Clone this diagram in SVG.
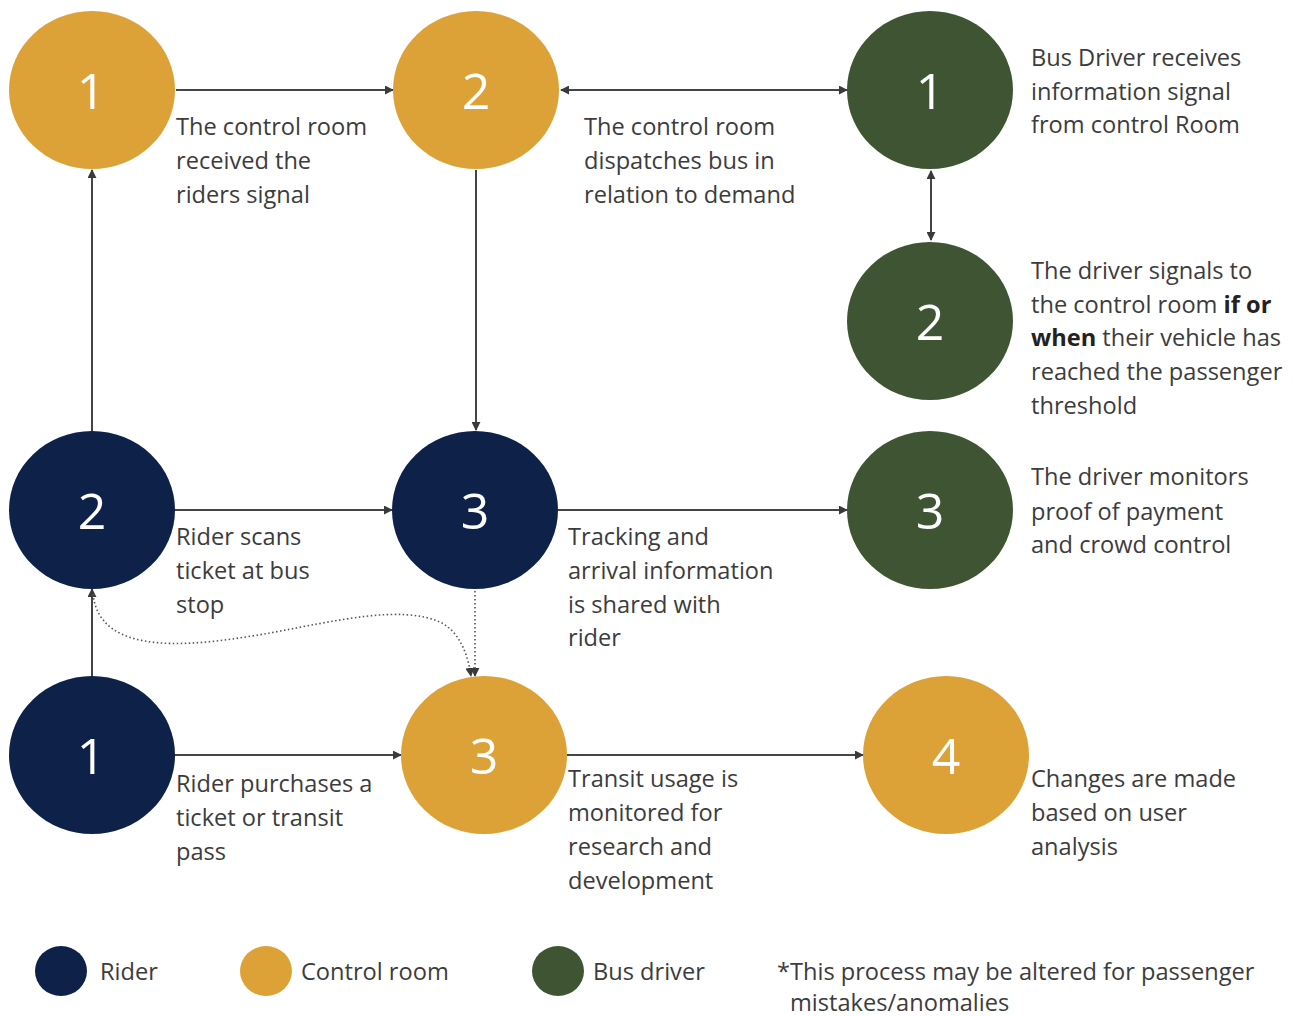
<svg xmlns="http://www.w3.org/2000/svg" width="1298" height="1016" viewBox="0 0 1298 1016">
  <style>
    .rider { fill: #0e2148; }
    .control { fill: #dca238; }
    .driver { fill: #3e5433; }
    .num { font-family: "Open Sans", "DejaVu Sans", sans-serif; font-size: 50px; fill: #ffffff; text-anchor: middle; }
    .lbl { font-family: "Open Sans", "DejaVu Sans", sans-serif; font-size: 23.6px; fill: #3c3c3c; }
    .b { font-weight: bold; fill: #222222; }
    .link { stroke: #454545; stroke-width: 2; fill: none; }
    .dot { stroke: #555555; stroke-width: 1.6; stroke-dasharray: 1.5 2.5; fill: none; }
  </style>
  <defs>
    <marker id="arrow" viewBox="0 0 10 10" refX="9" refY="5" markerWidth="9" markerHeight="9" markerUnits="userSpaceOnUse" orient="auto-start-reverse">
      <path d="M0,0 L10,5 L0,10 Z" fill="#3a3a3a"/>
    </marker>
  </defs>

  <rect width="1298" height="1016" fill="#ffffff"/>

  <!-- connectors -->
  <g id="connectors">
    <line class="link" x1="176" y1="90" x2="393" y2="90" marker-end="url(#arrow)"/>
    <line class="link" x1="561" y1="90" x2="847" y2="90" marker-start="url(#arrow)" marker-end="url(#arrow)"/>
    <line class="link" x1="931" y1="171" x2="931" y2="240" marker-start="url(#arrow)" marker-end="url(#arrow)"/>
    <line class="link" x1="92" y1="431" x2="92" y2="170" marker-end="url(#arrow)"/>
    <line class="link" x1="476" y1="170" x2="476" y2="430" marker-end="url(#arrow)"/>
    <line class="link" x1="175" y1="510" x2="392" y2="510" marker-end="url(#arrow)"/>
    <line class="link" x1="558" y1="510" x2="847" y2="510" marker-end="url(#arrow)"/>
    <line class="link" x1="92" y1="676" x2="92" y2="589" marker-end="url(#arrow)"/>
    <line class="link" x1="175" y1="755" x2="401" y2="755" marker-end="url(#arrow)"/>
    <line class="link" x1="567" y1="755" x2="863" y2="755" marker-end="url(#arrow)"/>
    <line class="dot" x1="475" y1="591" x2="475" y2="676" marker-end="url(#arrow)"/>
    <path class="dot" d="M93,594 C100,660 200,645 270,633 C340,620 400,605 440,622 C460,632 468,655 471,676" marker-end="url(#arrow)"/>
  </g>

  <!-- control room nodes -->
  <g id="control-1">
    <ellipse class="control" cx="92" cy="90" rx="83" ry="79"/>
    <text class="num" x="91" y="109">1</text>
    <text class="lbl" x="176" y="135">The control room</text>
    <text class="lbl" x="176" y="169">received the</text>
    <text class="lbl" x="176" y="203">riders signal</text>
  </g>
  <g id="control-2">
    <ellipse class="control" cx="476" cy="90" rx="83" ry="79"/>
    <text class="num" x="476" y="109">2</text>
    <text class="lbl" x="584" y="135">The control room</text>
    <text class="lbl" x="584" y="169">dispatches bus in</text>
    <text class="lbl" x="584" y="203">relation to demand</text>
  </g>
  <g id="control-3">
    <ellipse class="control" cx="484" cy="755" rx="83" ry="79"/>
    <text class="num" x="484" y="774">3</text>
    <text class="lbl" x="568" y="787">Transit usage is</text>
    <text class="lbl" x="568" y="821">monitored for</text>
    <text class="lbl" x="568" y="855">research and</text>
    <text class="lbl" x="568" y="889">development</text>
  </g>
  <g id="control-4">
    <ellipse class="control" cx="946" cy="755" rx="83" ry="79"/>
    <text class="num" x="946" y="774">4</text>
    <text class="lbl" x="1031" y="787">Changes are made</text>
    <text class="lbl" x="1031" y="821">based on user</text>
    <text class="lbl" x="1031" y="855">analysis</text>
  </g>

  <!-- bus driver nodes -->
  <g id="driver-1">
    <ellipse class="driver" cx="930" cy="90" rx="83" ry="79"/>
    <text class="num" x="930" y="109">1</text>
    <text class="lbl" x="1031" y="66">Bus Driver receives</text>
    <text class="lbl" x="1031" y="100">information signal</text>
    <text class="lbl" x="1031" y="133">from control Room</text>
  </g>
  <g id="driver-2">
    <ellipse class="driver" cx="930" cy="321" rx="83" ry="79"/>
    <text class="num" x="930" y="340">2</text>
    <text class="lbl" x="1031" y="279">The driver signals to</text>
    <text class="lbl" x="1031" y="313">the control room <tspan class="b">if or</tspan></text>
    <text class="lbl" x="1031" y="346"><tspan class="b">when</tspan> their vehicle has</text>
    <text class="lbl" x="1031" y="380">reached the passenger</text>
    <text class="lbl" x="1031" y="414">threshold</text>
  </g>
  <g id="driver-3">
    <ellipse class="driver" cx="930" cy="510" rx="83" ry="79"/>
    <text class="num" x="930" y="529">3</text>
    <text class="lbl" x="1031" y="485">The driver monitors</text>
    <text class="lbl" x="1031" y="520">proof of payment</text>
    <text class="lbl" x="1031" y="553">and crowd control</text>
  </g>

  <!-- rider nodes -->
  <g id="rider-1">
    <ellipse class="rider" cx="92" cy="755" rx="83" ry="79"/>
    <text class="num" x="91" y="774">1</text>
    <text class="lbl" x="176" y="792">Rider purchases a</text>
    <text class="lbl" x="176" y="826">ticket or transit</text>
    <text class="lbl" x="176" y="860">pass</text>
  </g>
  <g id="rider-2">
    <ellipse class="rider" cx="92" cy="510" rx="83" ry="79"/>
    <text class="num" x="92" y="529">2</text>
    <text class="lbl" x="176" y="545">Rider scans</text>
    <text class="lbl" x="176" y="579">ticket at bus</text>
    <text class="lbl" x="176" y="613">stop</text>
  </g>
  <g id="rider-3">
    <ellipse class="rider" cx="475" cy="510" rx="83" ry="79"/>
    <text class="num" x="475" y="529">3</text>
    <text class="lbl" x="568" y="545">Tracking and</text>
    <text class="lbl" x="568" y="579">arrival information</text>
    <text class="lbl" x="568" y="613">is shared with</text>
    <text class="lbl" x="568" y="646">rider</text>
  </g>

  <!-- legend -->
  <g id="legend">
    <ellipse class="rider" cx="61" cy="971" rx="26" ry="25"/>
    <text class="lbl" x="100" y="980">Rider</text>
    <ellipse class="control" cx="266" cy="971" rx="26" ry="25"/>
    <text class="lbl" x="301" y="980">Control room</text>
    <ellipse class="driver" cx="558" cy="971" rx="26" ry="25"/>
    <text class="lbl" x="593" y="980">Bus driver</text>
    <text class="lbl" x="777" y="980">*This process may be altered for passenger</text>
    <text class="lbl" x="790" y="1011">mistakes/anomalies</text>
  </g>
</svg>
